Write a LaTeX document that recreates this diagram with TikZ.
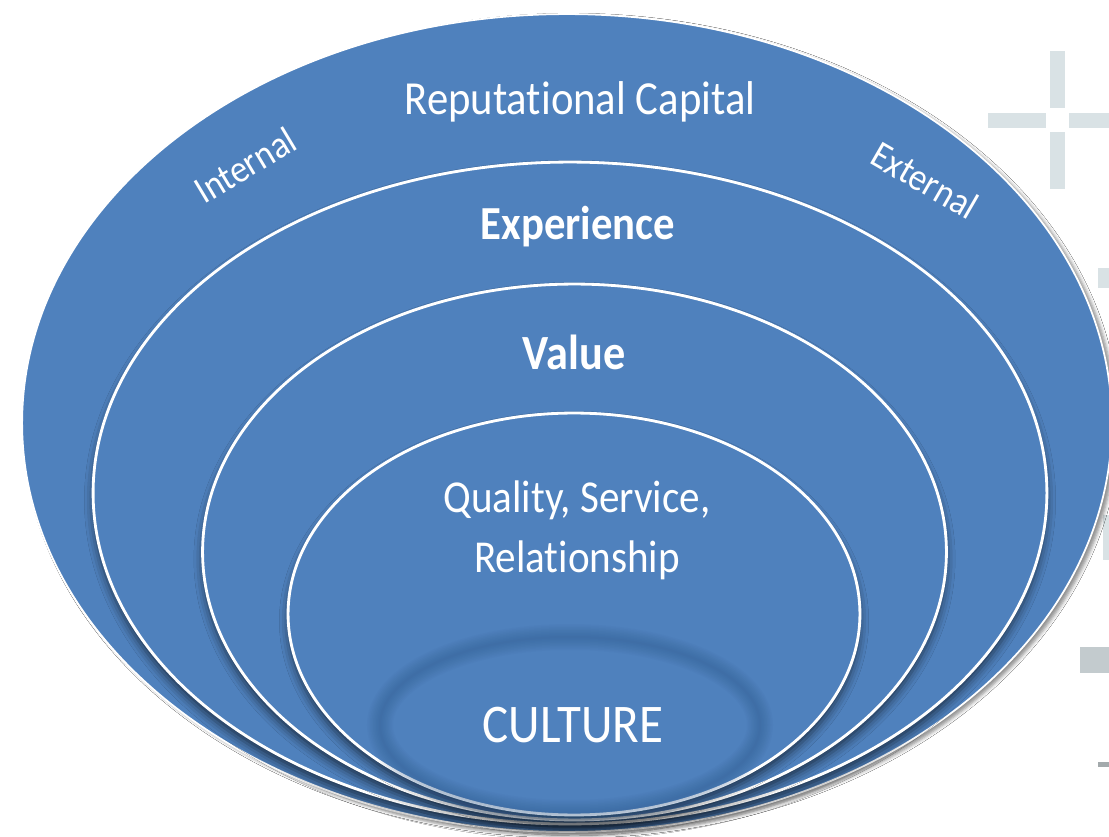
\documentclass[tikz,border=0pt]{standalone}
\usepackage{fontspec}
\setmainfont{Carlito}[FakeStretch=0.9, Ligatures=NoCommon]
\usepackage{tikz}
\usetikzlibrary{shapes.geometric, shadows.blur}
\definecolor{ringblue}{HTML}{4F81BD}
\definecolor{crossgray}{HTML}{D9E2E5}
\definecolor{recessblue}{HTML}{2F5A8C}
\tikzstyle{ring} = [ellipse, fill=ringblue, draw=white, line width=1.6pt, inner sep=0pt, outer sep=0pt,
	blur shadow={shadow xshift=0pt, shadow yshift=-4pt, shadow blur radius=5pt, shadow opacity=60}]
\tikzstyle{ringtext} = [text=white, anchor=base, inner sep=0pt, outer sep=0pt]
\begin{document}
\begin{tikzpicture}[x=0.02cm, y=-0.02cm]
	\fill[white] (0,0) rectangle (1109,837);
	\useasboundingbox (0,0) rectangle (1109,837);

	% crosses in the background
	\fill[crossgray] (1050,51) rectangle (1065,108);
	\fill[crossgray] (1050,132) rectangle (1065,189);
	\fill[crossgray] (988,113) rectangle (1046,128);
	\fill[crossgray] (1069,113) rectangle (1109,128);
	\fill[crossgray] (1098,268) rectangle (1109,288);
	\fill[crossgray] (1103,515) rectangle (1109,560);
	\fill[crossgray!90!black] (1080,647) rectangle (1109,673);
	\fill[crossgray!75!black] (1098,762) rectangle (1109,767);

	\node[ring, draw=white, line width=1pt, minimum width=21.8cm, minimum height=16.36cm,
		blur shadow={shadow yshift=-1.5pt, shadow blur radius=2pt, shadow opacity=25}] (capital) at (567,423) {};
	\node[ring, minimum width=19.08cm, minimum height=13.24cm] (experience) at (570,493) {};
	\node[ring, minimum width=14.88cm, minimum height=10.72cm] (value) at (574.5,552) {};
	\node[ring, minimum width=11.44cm, minimum height=8.04cm] (quality) at (574,614) {};

	% recessed core
	\foreach \w in {2,5,...,26}
		\draw[recessblue, line width=\w*0.02cm, opacity=0.055] (570,725) ellipse [x radius=190, y radius=88];
	\node[ellipse, minimum width=7.4cm, minimum height=3.2cm, inner sep=0pt] (culture) at (570,728) {};

	\node[ringtext, font=\fontsize{27}{32}\selectfont] (capitaltext) at (580,115) {Reputational Capital};
	\node[ringtext, font=\fontsize{22}{26}\selectfont, rotate=31, anchor=center] (internal) at (245,165) {Internal};
	\node[ringtext, font=\fontsize{22}{26}\selectfont, rotate=-30, anchor=center] (external) at (925,180) {External};
	\node[ringtext, font=\bfseries\fontsize{27}{32}\selectfont] (experiencetext) at (578,240) {Experience};
	\node[ringtext, font=\bfseries\fontsize{28}{32}\selectfont] (valuetext) at (574,370) {Value};
	\node[ringtext, font=\fontsize{26}{34.5}\selectfont, align=center] (qualitytext) at (577,573) {Quality, Service,\\Relationship};
	\node[ringtext, font=\fontsize{31}{36}\selectfont] (culturetext) at (573,742) {CULTURE};
\end{tikzpicture}
\end{document}
